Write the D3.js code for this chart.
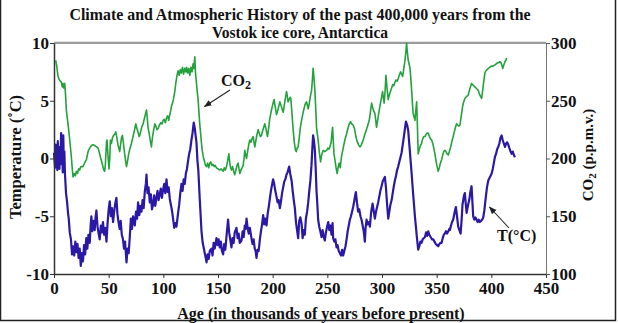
<!DOCTYPE html>
<html><head><meta charset="utf-8">
<script src="https://cdn.jsdelivr.net/npm/d3@7"></script>
<style>
html,body{margin:0;padding:0;background:#fff;}
svg{display:block;}
text{font-family:"Liberation Serif","Times New Roman",serif;font-weight:bold;fill:#111;}
</style></head>
<body>
<svg id="chart" width="618" height="323"></svg>
<script>
// ---------- data ----------
const titleLines = ["Climate and Atmospheric History of the past 400,000 years from the", "Vostok ice core, Antarctica"];
const xTicks = [0, 50, 100, 150, 200, 250, 300, 350, 400, 450];
const tempTicks = [-10, -5, 0, 5, 10];
const co2Ticks = [100, 150, 200, 250, 300];

const co2Age = [1.6,2.5,3.7,5,6.8,7.5,8.2,8.9,9.8,10.5,11.3,12,12.8,14.4,15.9,16.8,17.4,18.5,19.5,20.5,21.5,22.5,23.5,24.5,26.5,27.5,28.5,29.6,30.5,31.5,32.7,34,35.7,37.5,39,40.3,41.5,42.5,43.4,44.5,45.5,46.4,47,48,48.5,49.2,50.3,51,51.6,52.5,53.5,54.5,55.5,56.5,57.5,58.5,59.5,60.1,61,61.8,62.6,63.5,64.5,65.5,66.3,67.3,68.3,69.3,70.8,72,73.5,74.8,75.8,76.8,77.8,78.4,79.5,80.5,81.5,82.5,83.5,84.6,85.3,86,87,88,89.1,90,91,92.2,93.2,94.2,95.2,96.5,97.7,98.8,99.8,100.8,101.8,102.9,103.9,104.9,105.9,106.7,107.4,108.4,109.4,110.5,111.5,112.5,113.5,114.5,115.5,116.5,117.5,118.5,119.5,120.5,121.2,122.2,123.2,124.2,125.2,126.2,127.2,128,128.8,129.3,129.7,130.8,131.8,133.3,134.9,135.6,136.4,137.5,138.5,139.5,140.5,141.5,142.5,143.5,144.5,145.5,146.5,147.5,148.5,150.1,151.5,153,154.7,155.7,156.7,157.8,158.8,159.9,160.8,161.5,162.3,163.3,164.3,165.4,166.4,167.4,168.4,169.2,170,171,172,173,173.8,174.5,175.3,176.1,177.1,178.1,179.1,180.1,181.1,182.1,183.1,183.7,184.7,185.7,186.7,187.7,188.7,189.8,190.8,191.8,192.8,193.8,194.6,195.3,196.3,197.3,198.3,198.9,199.9,200.6,201.3,202.3,203.5,204.5,205.5,206.6,207.6,208.6,209.6,210.6,211.6,212.7,213.4,214.1,215,216,216.6,217.6,218.7,219.8,220.9,221.6,222.3,223.3,224.3,225.2,226.4,227.9,229.4,230.2,231,232,232.5,233.5,234.5,235.6,236.3,237,237.6,238.6,239.4,240.1,241,241.6,242.6,243.8,244.8,246.2,247.7,249.3,250.5,251.5,252.3,253.5,254.2,254.8,255.5,256.1,256.9,258,259,259.8,260.8,261.8,263,264.5,266,267.5,269.1,270.1,271.2,272.3,273.6,274.8,276.1,277.2,278.5,279.8,281.2,282.8,284.3,285.8,287.4,288.5,289.5,290.5,291.5,292.5,293.5,294.3,295,296,297,298,299,299.8,300.5,301.2,302,302.8,303.6,304.5,305.7,306.7,307.7,308.8,309.8,310.8,311.8,312.8,313.8,314.8,315.8,317,318,318.9,319.8,321,321.8,322.5,323.2,324,325,325.5,326.3,327.1,327.8,328.5,329.3,330.1,330.9,331.7,332.4,333.1,334.1,335.1,336.2,337.2,338.2,339.3,340.3,341.4,342.3,343.4,344.4,345.4,346.4,347.4,348.4,349.4,350.4,351.4,352.4,353.4,354.5,355.5,356.5,357.5,358.5,359.5,360.6,361.6,362.8,364,365.1,366.1,367.2,368.2,369.2,370.2,371.3,372.5,373.7,374.7,375.8,376.8,377.8,378.9,379.9,380.9,381.9,382.9,384,385,386,387,388,389,390,391.1,392.1,393.1,394.1,395.1,396.2,397.2,398.5,400,401.5,403.3,404.5,405.8,406.8,407.9,408.8,409.6,410.4,411.4,412.5,413.3,414];
const co2Val = [285,280,271,268,266,262,265,261,265,256,242,236,230,216,201,190,184,187,185,189,187,191,190,193,193,195,197,199,203,207,209,211,212,211,210,209,205,201,198,194,190,189,195,214,216,205,191,200,216,213,218,220,221,223,218,212,208,206,213,218,220,213,205,198,193,198,204,208,213,218,224,230,226,223,219,220,224,228,230,234,238,242,235,227,222,216,210,218,224,230,228,225,226,229,231,230,233,234,231,235,237,233,238,241,245,248,252,258,266,272,276,272,277,274,279,273,278,275,279,274,278,272,279,275,282,278,288,276,271,260,251,230,213,207,202,198,194,193,196,192,196,197,194,195,193,194,192,191,190,191,189,192,190,193,198,204,196,192,190,193,189,186,190,194,196,191,187,190,192,194,200,207,203,200,206,212,216,214,217,219,213,210,216,221,225,222,219,220,224,227,230,226,222,219,226,234,239,242,246,249,251,245,238,241,245,249,246,243,240,246,252,258,254,249,251,253,252,240,225,214,207,206,209,210,218,226,233,240,246,248,249,245,243,248,254,259,268,278,272,259,243,227,220,216,206,197,203,207,206,207,209,208,210,214,222,227,214,204,199,192,187,192,196,192,202,209,216,221,227,230,232,230,229,226,219,215,212,210,212,216,221,225,230,234,241,248,244,241,239,233,227,233,239,245,250,254,258,253,248,258,272,262,251,255,258,261,264,263,266,268,267,269,272,275,273,271,277,285,292,300,292,285,281,279,270,259,248,239,236,233,241,249,228,204,208,211,213,217,219,219,221,222,222,219,217,216,213,209,204,198,193,189,192,196,199,203,206,207,206,204,203,206,210,215,219,223,227,230,229,228,229,237,245,249,252,253,254,255,259,262,265,264,263,262,261,260,259,256,254,252,259,267,274,276,277,278,279,280,280,281,282,283,283,284,283,281,278,281,284,285,287];

const tempAge = [0,1,1.5,2,2.5,3,3.5,4,4.5,5,5.5,6,6.5,7,7.5,8,8.5,9,9.5,10,11,12,12.8,13.5,14.4,15.5,16.5,17.4,18.5,19.5,20.5,21.5,22.5,23.5,24.5,25.5,26.5,27.5,28.5,29.5,30.5,31.5,32.7,33.5,34.2,35,36,37.2,38,38.8,39.8,40.8,41.8,42.8,43.8,44.8,45.8,46.8,48,49,50,51,52,53,54,55,56,57.1,58,59,60.1,61,62,63.1,64,65,66.3,67.3,68.3,69.3,70.3,71.3,72.3,73.9,75,76,76.9,78,79,80,81,82,83,84,84.6,85.5,86.5,87.6,88.6,89.6,90.6,91.6,92.6,93.7,94.7,95.7,96.7,97.7,98.7,99.8,100.8,101.8,102.9,103.9,104.9,105.9,106.9,107.9,108.9,110,111,112,113.5,114.5,115.5,116.6,117.6,118.6,119.6,120.6,121.6,122.6,123.6,124.6,125.7,126.7,127.8,128.8,129.5,130.3,131.2,132,133.3,134.9,136,137.9,139,139.5,140.5,141.5,142.5,144,145,146,147,148.6,149.6,150.6,151.6,152.6,153.6,154.7,155.7,156.7,157.7,158.5,159.2,160.2,161.2,162.3,163.3,164.3,165.3,166.9,167.9,168.9,169.9,171.5,172.5,173.5,174.5,175.3,176.1,177.1,178.1,179.1,180.6,181.6,182.6,183.6,184.4,185.2,186.2,187.2,188.3,189.3,190.3,191.3,192.3,193.3,194.4,195.4,196.4,197.4,198.4,199.4,200.4,201.4,202.4,203.5,204.5,205.5,206.6,207.6,208.6,209.6,210.6,211.6,212.6,213.6,214.5,215.1,216,217.3,218.3,219.3,220.3,221.3,222.3,223.3,224.3,225.3,226.4,227.4,228.4,229.4,230.4,231.5,232.5,233.5,234.5,235.5,236.3,237,237.8,238.6,239.4,240.1,241,241.6,242.6,243.6,244.7,245.7,246.7,247.7,248.7,249.8,250.8,251.8,252.8,253.8,254.8,255.3,256.4,257.4,258.4,259.4,260.4,261.5,262.5,263.5,264.5,265.5,266.6,267.6,268.6,269.6,270.6,271.6,272.6,273.6,274.6,275.5,276.1,277.1,278.2,279.2,280.3,281.3,282.3,283.3,284.3,285,285.9,286.9,288,288.9,290,291.4,292.5,293.5,294.5,295.5,296.5,297.5,298.5,299.6,300.6,301.6,302.6,303.6,304.6,305.7,306.7,307.7,308.8,309.8,310.8,311.8,312.8,313.8,314.8,315.8,316.9,317.9,319,320,321,321.9,323,324,325,326,327.1,328.1,329.1,330.1,331.1,332.1,333.1,334.1,335.1,336.2,337.2,338.2,339.3,340.3,341.3,342.3,343.3,344.5,345.8,346.9,348,349.2,350.3,351.4,352.5,353.5,354.5,355.5,356.5,357.5,358.5,359.5,360.6,361.6,362.1,363.1,364.1,365.1,366.1,367,367.6,368.6,369.7,370.8,371.9,372.9,373.6,374.3,375,375.8,376.6,377.4,378.2,379,379.8,380.8,381.9,382.6,383.4,384.4,385.5,386.5,387.5,388.5,389.5,390.5,391.6,392.6,393.6,395,396,397.2,398.2,399.3,400.3,401.3,402.3,403.3,404.3,405.3,406.3,407.3,408.4,409.4,410.4,411.4,412.5,413.5,414.5,415.5,416.5,417.6,418.6,419.6,420.6,421.6];
const tempVal = [0.5,-0.8,1.2,-0.5,0.9,-1.0,1.5,-0.3,0.8,-0.9,1.0,-0.2,2.2,-0.5,1.3,-1.2,2.0,-0.6,0.6,-1.3,-3.0,-3.8,-4.7,-5.2,-6.4,-7.0,-8.3,-7.6,-8.4,-7.2,-8.1,-7.4,-8.6,-7.8,-9.3,-8.2,-8.9,-7.5,-8.3,-6.9,-7.8,-6.6,-7.3,-5.8,-5.0,-6.3,-5.4,-6.2,-5.1,-4.5,-5.9,-6.5,-7.0,-5.8,-6.4,-5.5,-6.6,-6.0,-7.2,-5.6,-4.4,-3.7,-5.0,-4.3,-5.5,-4.6,-3.9,-3.4,-4.8,-5.5,-6.1,-5.4,-6.6,-7.0,-7.8,-7.2,-9.0,-7.8,-8.2,-6.8,-5.2,-6.1,-5.0,-5.8,-4.6,-5.2,-3.8,-4.9,-4.1,-4.6,-3.6,-4.3,-2.9,-2.2,-1.4,-3.0,-2.5,-3.8,-3.1,-4.4,-4.0,-3.2,-4.1,-3.4,-2.8,-3.6,-3.1,-2.6,-3.4,-2.7,-2.2,-3.0,-1.8,-2.9,-2.5,-3.5,-4.0,-4.5,-5.2,-6.0,-5.6,-5.9,-4.7,-4.0,-3.0,-2.2,-2.8,-1.8,-2.2,-1.3,-0.9,-0.2,0.4,0.8,1.6,2.2,3.1,2.6,2.0,1.4,-0.2,-1.0,-3.5,-6.3,-7.3,-8.2,-8.7,-9.0,-8.3,-8.7,-8.0,-7.8,-8.4,-7.3,-7.8,-6.9,-7.5,-7.0,-7.7,-7.2,-8.0,-8.3,-7.4,-7.9,-6.8,-6.0,-5.3,-6.4,-7.0,-7.7,-6.9,-7.3,-6.4,-6.0,-6.9,-6.5,-7.3,-7.1,-6.3,-6.8,-5.8,-6.1,-5.2,-6.0,-6.5,-6.0,-6.9,-7.4,-7.0,-7.8,-8.0,-8.6,-7.9,-8.0,-7.0,-6.3,-5.7,-4.9,-5.7,-5.2,-5.8,-4.8,-4.2,-3.5,-2.8,-2.3,-1.8,-2.2,-2.8,-3.3,-3.8,-3.6,-4.3,-3.7,-3.0,-2.5,-2.0,-1.8,-1.4,-1.2,-0.9,-0.7,-1.3,-1.9,-2.8,-3.6,-4.3,-5.5,-6.2,-6.9,-5.4,-5.1,-5.6,-6.9,-6.2,-6.6,-5.2,-4.6,-3.8,-2.8,-1.9,-0.6,0.9,2.0,1.5,0.7,-1.0,-2.8,-4.2,-5.3,-5.9,-6.3,-6.8,-6.2,-6.8,-7.1,-6.4,-5.9,-5.5,-6.2,-5.8,-6.6,-5.6,-6.9,-7.2,-7.0,-7.7,-7.5,-8.0,-8.2,-8.4,-7.9,-8.4,-8.0,-7.6,-7.0,-6.3,-5.8,-5.3,-5.0,-4.6,-4.2,-3.7,-3.2,-2.9,-3.8,-4.6,-4.4,-5.0,-5.3,-5.8,-6.3,-7.2,-6.0,-5.3,-5.7,-5.5,-5.9,-4.7,-3.9,-4.6,-5.2,-4.6,-4.2,-3.8,-3.3,-2.8,-2.4,-2.0,-1.8,-1.6,-2.5,-3.9,-5.2,-4.6,-4.0,-3.6,-3.0,-2.4,-1.9,-1.5,-1.0,-0.7,-0.3,0.1,0.5,1.2,1.9,2.6,3.2,2.9,2.4,1.2,0.0,-1.3,-2.6,-3.8,-5.0,-6.0,-7.0,-7.9,-7.6,-7.2,-7.3,-7.0,-6.9,-6.8,-6.4,-6.7,-6.3,-6.6,-6.8,-7.0,-7.0,-7.2,-7.4,-7.5,-7.6,-7.4,-7.3,-7.3,-6.9,-6.6,-6.5,-6.3,-6.5,-6.3,-6.1,-6.2,-5.8,-5.5,-5.3,-4.8,-4.4,-4.2,-5.0,-5.9,-6.2,-6.5,-5.2,-4.0,-3.6,-3.2,-3.0,-3.9,-4.7,-4.3,-3.9,-3.6,-2.9,-2.4,-3.6,-5.0,-5.3,-5.1,-5.3,-5.5,-5.3,-5.5,-5.4,-5.3,-5.1,-4.5,-3.3,-2.5,-1.9,-1.7,-1.5,-1.3,-0.9,-0.4,0.15,0.4,0.8,1.0,1.3,1.8,2.0,1.6,1.3,1.0,1.3,1.4,1.2,0.9,0.6,0.4,0.6,0.3,0.1];

// ---------- layout ----------
const svg = d3.select("#chart");
const x = d3.scaleLinear().domain([0, 450]).range([54, 546]);
const yT = d3.scaleLinear().domain([-10, 10]).range([274, 43]);
const yC = d3.scaleLinear().domain([100, 300]).range([274, 43]);

// outer frame (left, right, bottom)
svg.append("path").attr("d", "M0.5,0 V320.5 H615.5 V0")
  .attr("fill", "none").attr("stroke", "#222").attr("stroke-width", 1.5);

// title
const titleW = [461, 176];
svg.selectAll("text.title").data(titleLines).join("text")
  .attr("class", "title")
  .attr("x", 300).attr("y", (d, i) => 19.5 + i * 18.5)
  .attr("text-anchor", "middle").style("font-size", "17px")
  .attr("textLength", (d, i) => titleW[i]).attr("lengthAdjust", "spacingAndGlyphs")
  .text(d => d);

// top grey frame line
svg.append("line").attr("x1", 54).attr("x2", 546).attr("y1", 42.8).attr("y2", 42.8)
  .attr("stroke", "#9a9a9a").attr("stroke-width", 2.2);

// series
const co2Data = co2Age.map((a, i) => [a, co2Val[i]]);
const tempData = tempAge.map((a, i) => [a, tempVal[i]]);

svg.append("path").datum(co2Data)
  .attr("fill", "none").attr("stroke", "#23a23c").attr("stroke-width", 1.6)
  .attr("stroke-linejoin", "round")
  .attr("d", d3.line().x(d => x(d[0])).y(d => yC(d[1])));

svg.append("path").datum(tempData)
  .attr("fill", "none").attr("stroke", "#2a18a6").attr("stroke-width", 2.2)
  .attr("stroke-linejoin", "round")
  .attr("d", d3.line().x(d => x(d[0])).y(d => yT(d[1])));

// axes
const fontStyle = g => g.selectAll("text")
  .style("font-family", '"Liberation Serif","Times New Roman",serif')
  .style("font-weight", "bold").style("font-size", "17px").attr("fill", "#111");
const fmt = d => String(d);

const gx = svg.append("g").attr("transform", "translate(0,274)")
  .call(d3.axisBottom(x).tickValues(xTicks).tickFormat(fmt).tickSize(4).tickPadding(4).tickSizeOuter(0));
gx.call(fontStyle);
gx.select(".domain").attr("stroke", "#333").attr("stroke-width", 1.5);
gx.selectAll(".tick line").attr("stroke", "#333");

const gl = svg.append("g").attr("transform", "translate(54,0)")
  .call(d3.axisLeft(yT).tickValues(tempTicks).tickFormat(fmt).tickSize(4).tickPadding(1).tickSizeOuter(0));
gl.call(fontStyle);
gl.select(".domain").attr("stroke", "#333").attr("stroke-width", 1.5);
gl.selectAll(".tick line").attr("stroke", "#333");

const gr = svg.append("g").attr("transform", "translate(546,0)")
  .call(d3.axisRight(yC).tickValues(co2Ticks).tickFormat(fmt).tickSize(4).tickPadding(1).tickSizeOuter(0));
gr.call(fontStyle);
gr.select(".domain").attr("stroke", "#777").attr("stroke-width", 1);
gr.selectAll(".tick line").attr("stroke", "#555");

// axis titles
svg.append("text").attr("transform", "translate(21,157) rotate(-90)")
  .attr("text-anchor", "middle").style("font-size", "16.5px").text("Temperature (˚C)");

const rt = svg.append("text").attr("transform", "translate(593,155) rotate(-90)")
  .attr("text-anchor", "middle").style("font-size", "15px");
rt.append("tspan").text("CO");
rt.append("tspan").attr("dy", 3).style("font-size", "11px").text("2");
rt.append("tspan").attr("dy", -3).text(" (p.p.m.v.)");

svg.append("text").attr("x", 321).attr("y", 319)
  .attr("text-anchor", "middle").style("font-size", "16px")
  .text("Age (in thousands of years before present)");

// annotations
svg.append("defs").append("marker").attr("id", "arr")
  .attr("viewBox", "0 0 10 10").attr("refX", 9).attr("refY", 5)
  .attr("markerWidth", 7).attr("markerHeight", 7).attr("orient", "auto")
  .append("path").attr("d", "M0,1 L10,5 L0,9 Z").attr("fill", "#222");

const co2Lbl = svg.append("text").attr("x", 221).attr("y", 86).style("font-size", "16px");
co2Lbl.append("tspan").text("CO");
co2Lbl.append("tspan").attr("dy", 3).style("font-size", "12px").text("2");
svg.append("line").attr("x1", 230).attr("y1", 90).attr("x2", 204.5).attr("y2", 106.5)
  .attr("stroke", "#222").attr("stroke-width", 1.1).attr("marker-end", "url(#arr)");

svg.append("text").attr("x", 497).attr("y", 241).style("font-size", "16px").text("T(°C)");
svg.append("line").attr("x1", 509).attr("y1", 228).attr("x2", 489.5).attr("y2", 207)
  .attr("stroke", "#222").attr("stroke-width", 1.1).attr("marker-end", "url(#arr)");
</script>
</body></html>
